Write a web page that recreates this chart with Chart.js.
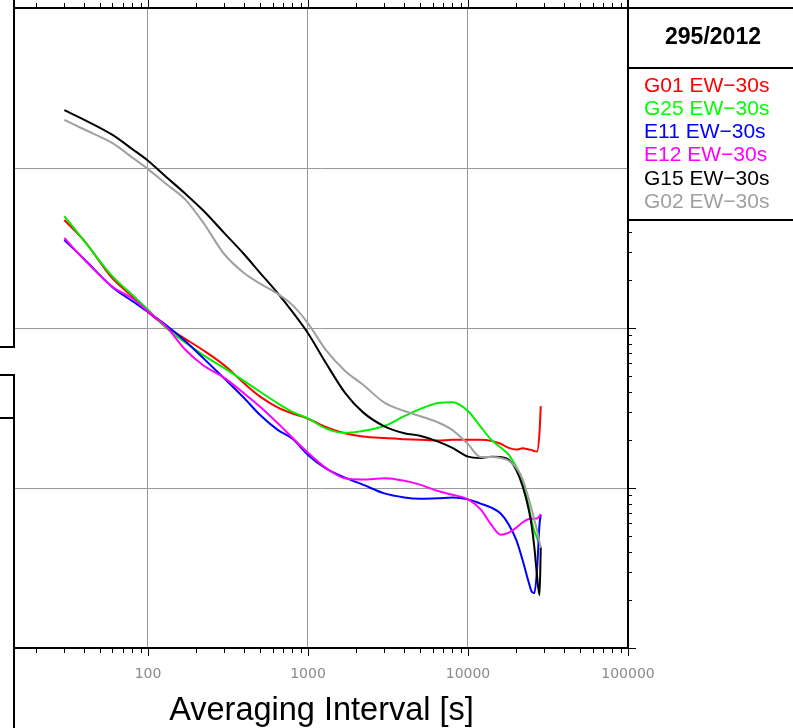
<!DOCTYPE html>
<html>
<head>
<meta charset="utf-8">
<script src="https://cdn.jsdelivr.net/npm/chart.js@4.4.0/dist/chart.umd.min.js"></script>
<style>
html,body{margin:0;padding:0;background:#fff;overflow:hidden}
canvas{display:block}
</style>
</head>
<body>
<canvas id="c" width="793" height="728"></canvas>
<script>
// ---------- data ----------
const chartTitle = '295/2012';
const xAxisTitle = 'Averaging Interval [s]';
const xTickLabels = [100, 1000, 10000, 100000];

const tau = [30,40,60,80,100,130,170,220,300,400,500,650,800,1000,1300,1700,2200,3000,4000,5000,6500,8000,10000,12000,14000,16000,18000,20000,22000,24000,25000,26000,27000,28000,28500];

const G01 = [4.73e-12,3.50e-12,2.04e-12,1.57e-12,1.26e-12,1.02e-12,8.59e-13,7.29e-13,5.84e-13,4.50e-13,3.74e-13,3.18e-13,2.92e-13,2.71e-13,2.40e-13,2.20e-13,2.10e-13,2.05e-13,2.02e-13,2.00e-13,1.98e-13,2.00e-13,2.00e-13,2.00e-13,1.97e-13,1.89e-13,1.78e-13,1.74e-13,1.77e-13,1.74e-13,1.73e-13,1.70e-13,1.69e-13,2.24e-13,3.25e-13];
const G25 = [5.01e-12,3.49e-12,2.10e-12,1.61e-12,1.30e-12,1.00e-12,8.16e-13,6.80e-13,5.61e-13,4.65e-13,4.01e-13,3.37e-13,2.99e-13,2.72e-13,2.35e-13,2.21e-13,2.27e-13,2.44e-13,2.81e-13,3.11e-13,3.40e-13,3.44e-13,3.03e-13,2.41e-13,2.00e-13,1.79e-13,1.61e-13,1.36e-13,1.10e-13,7.60e-14,6.22e-14,5.38e-14,4.87e-14,4.47e-14,4.34e-14];
const E11 = [3.55e-12,2.69e-12,1.80e-12,1.47e-12,1.26e-12,1.04e-12,8.33e-13,6.53e-13,4.84e-13,3.64e-13,2.87e-13,2.30e-13,2.03e-13,1.61e-13,1.32e-13,1.16e-13,1.05e-13,9.25e-14,8.73e-14,8.57e-14,8.62e-14,8.71e-14,8.49e-14,7.99e-14,7.53e-14,6.93e-14,5.90e-14,4.75e-14,3.51e-14,2.56e-14,2.25e-14,2.21e-14,3.07e-14,5.96e-14,6.78e-14];
const E12 = [3.65e-12,2.67e-12,1.81e-12,1.53e-12,1.27e-12,1.02e-12,7.36e-13,5.87e-13,4.88e-13,3.89e-13,3.23e-13,2.53e-13,2.06e-13,1.66e-13,1.33e-13,1.15e-13,1.13e-13,1.15e-13,1.11e-13,1.05e-13,9.57e-14,9.07e-14,8.49e-14,7.35e-14,5.89e-14,5.10e-14,5.26e-14,5.64e-14,6.11e-14,6.41e-14,6.43e-14,6.44e-14,6.45e-14,6.68e-14,6.88e-14];
const G15 = [2.30e-11,2.00e-11,1.61e-11,1.31e-11,1.11e-11,8.79e-12,6.95e-12,5.46e-12,3.92e-12,2.88e-12,2.22e-12,1.64e-12,1.26e-12,9.27e-13,6.00e-13,3.95e-13,2.98e-13,2.43e-13,2.20e-13,2.12e-13,1.95e-13,1.78e-13,1.57e-13,1.54e-13,1.57e-13,1.56e-13,1.50e-13,1.30e-13,1.02e-13,7.29e-14,5.81e-14,4.22e-14,2.83e-14,2.14e-14,4.28e-14];
const G02 = [2.00e-11,1.74e-11,1.43e-11,1.16e-11,9.84e-12,7.94e-12,6.39e-12,4.60e-12,2.89e-12,2.20e-12,1.90e-12,1.63e-12,1.39e-12,1.07e-12,7.24e-13,5.41e-13,4.43e-13,3.42e-13,3.03e-13,2.82e-13,2.57e-13,2.30e-13,1.88e-13,1.56e-13,1.56e-13,1.54e-13,1.48e-13,1.34e-13,1.13e-13,8.53e-14,7.37e-14,6.31e-14,5.46e-14,4.56e-14,4.22e-14];

const seriesNames  = ['G01 EW\u221230s','G25 EW\u221230s','E11 EW\u221230s','E12 EW\u221230s','G15 EW\u221230s','G02 EW\u221230s'];
const seriesValues = [G01, G25, E11, E12, G15, G02];
const seriesColors = ['#ff0000','#00ee00','#0000ff','#ff00ff','#000000','#a0a0a0'];
const legendColors = ['#ff0000','#00ff00','#0000ff','#ff00ff','#000000','#a0a0a0'];

// ---------- chart ----------
const isDecade = v => Math.abs(Math.log10(v) - Math.round(Math.log10(v))) < 1e-6;
const PANEL_BOTTOM = 220;
const PLOT_LEFT = 15;
let yAxisWidth = PLOT_LEFT;

const decor = {
  id: 'decor',
  afterDraw(chart) {
    const {ctx, chartArea: a, scales: {x, y}, width: W, height: H} = chart;
    ctx.save();
    const seg = (x1, y1, x2, y2) => { ctx.beginPath(); ctx.moveTo(x1, y1); ctx.lineTo(x2, y2); ctx.stroke(); };
    ctx.strokeStyle = '#000';
    ctx.lineWidth = 1;
    for (let e = 0; e <= 5; e++) {
      for (let m = 1; m <= 9; m++) {
        const v = m * Math.pow(10, e);
        if (v < x.min - 1e-9 || v > x.max * (1 + 1e-9)) continue;
        const px = Math.round(x.getPixelForValue(v)) + 0.5;
        const L = m === 1 ? 8 : 5;
        seg(px, a.bottom, px, a.bottom + L);
        seg(px, a.top, px, a.top - L);
      }
    }
    for (let e = -15; e <= -10; e++) {
      for (let m = 1; m <= 9; m++) {
        const v = m * Math.pow(10, e);
        if (v < y.min * (1 - 1e-9) || v > y.max * (1 + 1e-9)) continue;
        const py = Math.round(y.getPixelForValue(v)) + 0.5;
        if (py < PANEL_BOTTOM + 2) continue;
        const L = m === 1 ? 8 : 4;
        seg(a.right, py, a.right + L, py);
      }
    }
    ctx.lineWidth = 2;
    ctx.lineCap = 'square';
    seg(a.left, a.top, W, a.top);
    seg(a.left, a.bottom, a.right, a.bottom);
    seg(a.right, 0, a.right, a.bottom);
    const L = a.left - 1;
    seg(L, 0, L, 347); seg(0, 347, L, 347);
    seg(0, 375, L, 375); seg(L, 375, L, H); seg(0, 418, L, 418);
    seg(a.right, 68, W, 68);
    seg(a.right, PANEL_BOTTOM, W, PANEL_BOTTOM);

    ctx.textBaseline = 'middle';
    ctx.textAlign = 'center';
    ctx.fillStyle = '#000';
    ctx.font = "bold 23px 'Liberation Sans', Arial, sans-serif";
    ctx.fillText(chartTitle, 713, 38);
    ctx.textAlign = 'left';
    ctx.font = "21px 'Liberation Sans', Arial, sans-serif";
    seriesNames.forEach((n, i) => {
      ctx.fillStyle = legendColors[i];
      ctx.fillText(n, 644, 86 + i * 23.2);
    });
    ctx.restore();
  }
};

const gridColor = c => (c.tick && isDecade(c.tick.value)) ? '#9a9a9a' : 'rgba(0,0,0,0)';

const chart = new Chart(document.getElementById('c'), {
  type: 'line',
  data: {
    datasets: seriesValues.map((vals, i) => ({
      label: seriesNames[i],
      data: tau.map((t, k) => ({x: t, y: vals[k]})),
      borderColor: seriesColors[i],
      backgroundColor: seriesColors[i],
      borderWidth: 2,
      pointRadius: 0,
      fill: false,
      cubicInterpolationMode: 'monotone',
      order: -i
    }))
  },
  options: {
    responsive: false,
    animation: false,
    devicePixelRatio: 1,
    layout: {padding: {top: 8, right: 165, left: 0, bottom: 0}},
    plugins: {legend: {display: false}, tooltip: {enabled: false}, title: {display: false}},
    scales: {
      x: {
        type: 'logarithmic',
        position: 'bottom',
        min: 14.75,
        max: 100000,
        afterFit: s => { s.height = 80; s.paddingLeft = 0; s.paddingRight = 0; },
        border: {display: false},
        grid: {color: gridColor, lineWidth: 1, drawTicks: false},
        ticks: {
          autoSkip: false,
          maxRotation: 0,
          padding: 18,
          color: '#8a8a8a',
          font: {family: "'DejaVu Sans', sans-serif", size: 14},
          callback: v => (isDecade(v) && xTickLabels.includes(Math.round(v))) ? String(Math.round(v)) : ''
        },
        title: {
          display: true,
          text: xAxisTitle,
          color: '#000',
          font: {family: "'Liberation Sans', Arial, sans-serif", size: 32.5},
          padding: {top: 0, bottom: -3}
        }
      },
      y: {
        type: 'logarithmic',
        position: 'left',
        min: 1e-14,
        max: 1e-10,
        afterFit: s => { s.width = yAxisWidth; },
        border: {display: false},
        grid: {color: gridColor, lineWidth: 1, drawTicks: false},
        ticks: {display: false}
      }
    }
  },
  plugins: [decor]
});
// keep the plot frame's left edge where the reference has it
const shift = chart.chartArea.left - PLOT_LEFT;
if (shift > 0) { yAxisWidth = Math.max(0, PLOT_LEFT - shift); chart.update(); }
</script>
</body>
</html>
